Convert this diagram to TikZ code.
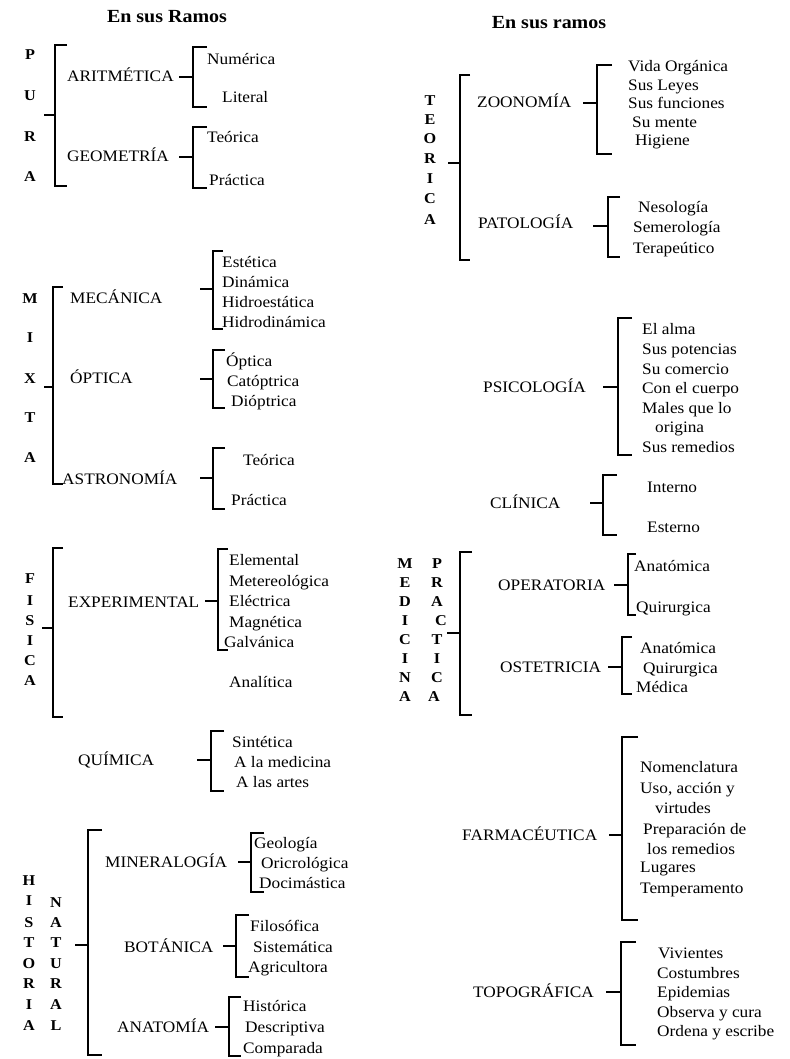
\documentclass[tikz,border=0pt]{standalone}
\usepackage{fontspec}
\setmainfont{Liberation Serif}[FakeStretch=1.08]

\begin{document}
\begin{tikzpicture}[x=1pt, y=-1pt,
        brk/.style={line width=1.1pt},
        ramo/.style={anchor=west, inner sep=0pt, text height=10pt, text depth=0pt, font=\fontsize{16}{18}\selectfont},
        hoja/.style={anchor=west, inner sep=0pt, text height=10pt, text depth=0pt, font=\fontsize{16}{18}\selectfont},
        letra/.style={inner sep=0pt, text height=10pt, text depth=0pt, font=\bfseries\fontsize{15}{18}\selectfont},
        titulo/.style={inner sep=0pt, font=\bfseries\fontsize{18.5}{20}\selectfont}]

        \useasboundingbox (0,0) rectangle (789,1059);

        % titles
        \node[titulo] (titL) at (167,17) {En sus Ramos};
        \node[titulo] (titR) at (549,23) {En sus ramos};

        % ---------------- left column ----------------
        % PURA
        \foreach \l/\y [count=\i] in {P/55,U/96,R/137,A/177}
            \node[letra] (pura\i) at (30,\y) {\l};
        \coordinate (pT) at (55,45);
        \coordinate (pB) at (55,186);
        \coordinate (pS) at (44,115);
        \draw[brk] ([xshift=12pt]pT) -- (pT) -- (pB) -- ([xshift=12pt]pB);
        \draw[brk] (pS) -- (pT |- pS);

        \node[ramo] (arit) at (67,77) {ARITMÉTICA};
        \coordinate (aritD) at (179,77);
        \coordinate (aritT) at (193,47);
        \coordinate (aritB) at (193,107);
        \draw[brk] ([xshift=14pt]aritT) -- (aritT) -- (aritB) -- ([xshift=14pt]aritB);
        \draw[brk] (aritD) -- (aritT |- aritD);
        \node[hoja] (arit1) at (207,60) {Numérica};
        \node[hoja] (arit2) at (222,98) {Literal};

        \node[ramo] (geom) at (67,157) {GEOMETRÍA};
        \coordinate (geomD) at (179,157);
        \coordinate (geomT) at (193,127);
        \coordinate (geomB) at (193,188);
        \draw[brk] ([xshift=14pt]geomT) -- (geomT) -- (geomB) -- ([xshift=14pt]geomB);
        \draw[brk] (geomD) -- (geomT |- geomD);
        \node[hoja] (geom1) at (207,138) {Teórica};
        \node[hoja] (geom2) at (209,181) {Práctica};

        % MIXTA
        \foreach \l/\y [count=\i] in {M/298,I/337,X/378,T/417,A/457}
            \node[letra] (mixta\i) at (30,\y) {\l};
        \coordinate (mT) at (53,287);
        \coordinate (mB) at (53,484);
        \coordinate (mS) at (44,387);
        \draw[brk] ([xshift=10pt]mT) -- (mT) -- (mB) -- ([xshift=10pt]mB);
        \draw[brk] (mS) -- (mT |- mS);

        \node[ramo] (mec) at (70,298) {MECÁNICA};
        \coordinate (mecD) at (200,289);
        \coordinate (mecT) at (213,251);
        \coordinate (mecB) at (213,329);
        \draw[brk] ([xshift=10pt]mecT) -- (mecT) -- (mecB) -- ([xshift=10pt]mecB);
        \draw[brk] (mecD) -- (mecT |- mecD);
        \node[hoja] (mec1) at (222,262) {Estética};
        \node[hoja] (mec2) at (222,282) {Dinámica};
        \node[hoja] (mec3) at (222,302) {Hidroestática};
        \node[hoja] (mec4) at (222,322) {Hidrodinámica};

        \node[ramo] (opt) at (70,378) {ÓPTICA};
        \coordinate (optD) at (200,379);
        \coordinate (optT) at (213,350);
        \coordinate (optB) at (213,408);
        \draw[brk] ([xshift=12pt]optT) -- (optT) -- (optB) -- ([xshift=12pt]optB);
        \draw[brk] (optD) -- (optT |- optD);
        \node[hoja] (opt1) at (226,361) {Óptica};
        \node[hoja] (opt2) at (227,381) {Catóptrica};
        \node[hoja] (opt3) at (231,401) {Dióptrica};

        \node[ramo] (astro) at (62,479) {ASTRONOMÍA};
        \coordinate (astroD) at (200,478);
        \coordinate (astroT) at (213,448);
        \coordinate (astroB) at (213,509);
        \draw[brk] ([xshift=12pt]astroT) -- (astroT) -- (astroB) -- ([xshift=12pt]astroB);
        \draw[brk] (astroD) -- (astroT |- astroD);
        \node[hoja] (astro1) at (243,460) {Teórica};
        \node[hoja] (astro2) at (231,500) {Práctica};

        % FISICA
        \foreach \l/\y [count=\i] in {F/578,I/600,S/620,I/640,C/660,A/680}
            \node[letra] (fisica\i) at (30,\y) {\l};
        \coordinate (fT) at (53,548);
        \coordinate (fB) at (53,717);
        \coordinate (fS) at (42,628);
        \draw[brk] ([xshift=10pt]fT) -- (fT) -- (fB) -- ([xshift=10pt]fB);
        \draw[brk] (fS) -- (fT |- fS);

        \node[ramo] (exper) at (68,602) {EXPERIMENTAL};
        \coordinate (experD) at (205,601);
        \coordinate (experT) at (218,549);
        \coordinate (experB) at (218,650);
        \draw[brk] ([xshift=10pt]experT) -- (experT) -- (experB) -- ([xshift=10pt]experB);
        \draw[brk] (experD) -- (experT |- experD);
        \node[hoja] (exper1) at (229,560) {Elemental};
        \node[hoja] (exper2) at (229,581) {Metereológica};
        \node[hoja] (exper3) at (229,601) {Eléctrica};
        \node[hoja] (exper4) at (229,622) {Magnética};
        \node[hoja] (exper5) at (224,642) {Galvánica};
        \node[hoja] (analit) at (229,682) {Analítica};

        % QUIMICA
        \node[ramo] (quim) at (78,760) {QUÍMICA};
        \coordinate (quimD) at (197,760);
        \coordinate (quimT) at (211,731);
        \coordinate (quimB) at (211,791);
        \draw[brk] ([xshift=13pt]quimT) -- (quimT) -- (quimB) -- ([xshift=13pt]quimB);
        \draw[brk] (quimD) -- (quimT |- quimD);
        \node[hoja] (quim1) at (232,742) {Sintética};
        \node[hoja] (quim2) at (234,762) {A la medicina};
        \node[hoja] (quim3) at (236,782) {A las artes};

        % HISTORIA NATURAL
        \foreach \l/\y [count=\i] in {H/880,I/900,S/922,T/942,O/963,R/983,I/1004,A/1025}
            \node[letra] (hist\i) at (29,\y) {\l};
        \foreach \l/\y [count=\i] in {N/902,A/922,T/942,U/963,R/983,A/1004,L/1025}
            \node[letra] (natu\i) at (56,\y) {\l};
        \coordinate (hT) at (88,830);
        \coordinate (hB) at (88,1055);
        \coordinate (hS) at (75,945);
        \draw[brk] ([xshift=14pt]hT) -- (hT) -- (hB) -- ([xshift=14pt]hB);
        \draw[brk] (hS) -- (hT |- hS);

        \node[ramo] (miner) at (105,862) {MINERALOGÍA};
        \coordinate (minerD) at (238,862);
        \coordinate (minerT) at (251,833);
        \coordinate (minerB) at (251,892);
        \draw[brk] ([xshift=13pt]minerT) -- (minerT) -- (minerB) -- ([xshift=13pt]minerB);
        \draw[brk] (minerD) -- (minerT |- minerD);
        \node[hoja] (miner1) at (254,843) {Geología};
        \node[hoja] (miner2) at (261,863) {Oricrológica};
        \node[hoja] (miner3) at (259,883) {Docimástica};

        \node[ramo] (bota) at (124,947) {BOTÁNICA};
        \coordinate (botaD) at (223,946);
        \coordinate (botaT) at (236,915);
        \coordinate (botaB) at (236,977);
        \draw[brk] ([xshift=13pt]botaT) -- (botaT) -- (botaB) -- ([xshift=13pt]botaB);
        \draw[brk] (botaD) -- (botaT |- botaD);
        \node[hoja] (bota1) at (250,926) {Filosófica};
        \node[hoja] (bota2) at (253,947) {Sistemática};
        \node[hoja] (bota3) at (248,967) {Agricultora};

        \node[ramo] (anato) at (117,1027) {ANATOMÍA};
        \coordinate (anatoD) at (215,1027);
        \coordinate (anatoT) at (229,997);
        \coordinate (anatoB) at (229,1056);
        \draw[brk] ([xshift=12pt]anatoT) -- (anatoT) -- (anatoB) -- ([xshift=12pt]anatoB);
        \draw[brk] (anatoD) -- (anatoT |- anatoD);
        \node[hoja] (anato1) at (243,1006) {Histórica};
        \node[hoja] (anato2) at (245,1027) {Descriptiva};
        \node[hoja] (anato3) at (243,1048) {Comparada};

        % ---------------- right column ----------------
        % TEORICA
        \foreach \l/\y [count=\i] in {T/101,E/120,O/139,R/159,I/179,C/199,A/220}
            \node[letra] (teor\i) at (430,\y) {\l};
        \coordinate (tT) at (460,75);
        \coordinate (tB) at (460,260);
        \coordinate (tS) at (448,163);
        \draw[brk] ([xshift=10pt]tT) -- (tT) -- (tB) -- ([xshift=10pt]tB);
        \draw[brk] (tS) -- (tT |- tS);

        \node[ramo] (zoo) at (477,103) {ZOONOMÍA};
        \coordinate (zooD) at (583,103);
        \coordinate (zooT) at (597,65);
        \coordinate (zooB) at (597,154);
        \draw[brk] ([xshift=15pt]zooT) -- (zooT) -- (zooB) -- ([xshift=15pt]zooB);
        \draw[brk] (zooD) -- (zooT |- zooD);
        \node[hoja] (zoo1) at (628,67) {Vida Orgánica};
        \node[hoja] (zoo2) at (628,86) {Sus Leyes};
        \node[hoja] (zoo3) at (628,104) {Sus funciones};
        \node[hoja] (zoo4) at (632,123) {Su mente};
        \node[hoja] (zoo5) at (635,141) {Higiene};

        \node[ramo] (pato) at (478,224) {PATOLOGÍA};
        \coordinate (patoD) at (593,226);
        \coordinate (patoT) at (608,197);
        \coordinate (patoB) at (608,257);
        \draw[brk] ([xshift=12pt]patoT) -- (patoT) -- (patoB) -- ([xshift=12pt]patoB);
        \draw[brk] (patoD) -- (patoT |- patoD);
        \node[hoja] (pato1) at (638,208) {Nesología};
        \node[hoja] (pato2) at (633,228) {Semerología};
        \node[hoja] (pato3) at (633,248) {Terapeútico};

        % PSICOLOGIA
        \node[ramo] (psico) at (483,387) {PSICOLOGÍA};
        \coordinate (psicoD) at (603,387);
        \coordinate (psicoT) at (618,318);
        \coordinate (psicoB) at (618,455);
        \draw[brk] ([xshift=14pt]psicoT) -- (psicoT) -- (psicoB) -- ([xshift=14pt]psicoB);
        \draw[brk] (psicoD) -- (psicoT |- psicoD);
        \node[hoja] (psico1) at (642,329) {El alma};
        \node[hoja] (psico2) at (642,349) {Sus potencias};
        \node[hoja] (psico3) at (642,369) {Su comercio};
        \node[hoja] (psico4) at (642,388) {Con el cuerpo};
        \node[hoja] (psico5) at (642,408) {Males que lo};
        \node[hoja] (psico6) at (655,427) {origina};
        \node[hoja] (psico7) at (642,447) {Sus remedios};

        % CLINICA
        \node[ramo] (clin) at (490,503) {CLÍNICA};
        \coordinate (clinD) at (590,503);
        \coordinate (clinT) at (603,475);
        \coordinate (clinB) at (603,535);
        \draw[brk] ([xshift=14pt]clinT) -- (clinT) -- (clinB) -- ([xshift=14pt]clinB);
        \draw[brk] (clinD) -- (clinT |- clinD);
        \node[hoja] (clin1) at (647,487) {Interno};
        \node[hoja] (clin2) at (647,527) {Esterno};

        % MEDICINA PRACTICA
        \foreach \l/\y [count=\i] in {M/563,E/582,D/601,I/620,C/639,I/658,N/677,A/696}
            \node[letra] (medi\i) at (405,\y) {\l};
        \foreach \l/\x/\y [count=\i] in {P/437/563,R/437/582,A/437/601,C/441/620,T/437/639,I/437/658,C/437/677,A/434/696}
            \node[letra] (prac\i) at (\x,\y) {\l};
        \coordinate (mdT) at (460,552);
        \coordinate (mdB) at (460,715);
        \coordinate (mdS) at (447,633);
        \draw[brk] ([xshift=12pt]mdT) -- (mdT) -- (mdB) -- ([xshift=12pt]mdB);
        \draw[brk] (mdS) -- (mdT |- mdS);

        \node[ramo] (oper) at (498,585) {OPERATORIA};
        \coordinate (operD) at (614,585);
        \coordinate (operT) at (628,554);
        \coordinate (operB) at (628,615);
        \draw[brk] ([xshift=8pt]operT) -- (operT) -- (operB) -- ([xshift=8pt]operB);
        \draw[brk] (operD) -- (operT |- operD);
        \node[hoja] (oper1) at (634,566) {Anatómica};
        \node[hoja] (oper2) at (636,607) {Quirurgica};

        \node[ramo] (oste) at (500,667) {OSTETRICIA};
        \coordinate (osteD) at (608,667);
        \coordinate (osteT) at (622,637);
        \coordinate (osteB) at (622,694);
        \draw[brk] ([xshift=10pt]osteT) -- (osteT) -- (osteB) -- ([xshift=10pt]osteB);
        \draw[brk] (osteD) -- (osteT |- osteD);
        \node[hoja] (oste1) at (640,648) {Anatómica};
        \node[hoja] (oste2) at (643,668) {Quirurgica};
        \node[hoja] (oste3) at (636,687) {Médica};

        % FARMACEUTICA
        \node[ramo] (farma) at (462,835) {FARMACÉUTICA};
        \coordinate (farmaD) at (609,835);
        \coordinate (farmaT) at (622,737);
        \coordinate (farmaB) at (622,920);
        \draw[brk] ([xshift=16pt]farmaT) -- (farmaT) -- (farmaB) -- ([xshift=16pt]farmaB);
        \draw[brk] (farmaD) -- (farmaT |- farmaD);
        \node[hoja] (farma1) at (640,767) {Nomenclatura};
        \node[hoja] (farma2) at (640,788) {Uso, acción y};
        \node[hoja] (farma3) at (655,808) {virtudes};
        \node[hoja] (farma4) at (643,829) {Preparación de};
        \node[hoja] (farma5) at (647,849) {los remedios};
        \node[hoja] (farma6) at (640,867) {Lugares};
        \node[hoja] (farma7) at (640,888) {Temperamento};

        % TOPOGRAFICA
        \node[ramo] (topo) at (473,992) {TOPOGRÁFICA};
        \coordinate (topoD) at (606,992);
        \coordinate (topoT) at (621,942);
        \coordinate (topoB) at (621,1045);
        \draw[brk] ([xshift=15pt]topoT) -- (topoT) -- (topoB) -- ([xshift=15pt]topoB);
        \draw[brk] (topoD) -- (topoT |- topoD);
        \node[hoja] (topo1) at (658,953) {Vivientes};
        \node[hoja] (topo2) at (657,973) {Costumbres};
        \node[hoja] (topo3) at (657,992) {Epidemias};
        \node[hoja] (topo4) at (657,1012) {Observa y cura};
        \node[hoja] (topo5) at (657,1031) {Ordena y escribe};
    \end{tikzpicture}
\end{document}
